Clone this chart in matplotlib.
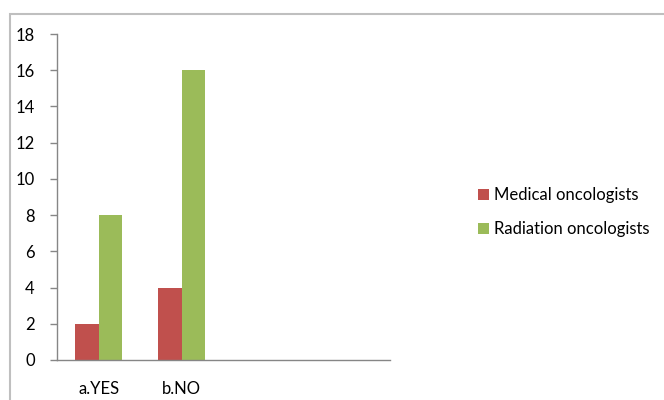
import numpy as np
import matplotlib.pyplot as plt
from matplotlib.patches import Rectangle

plt.rcParams['font.family'] = ['Lato', 'DejaVu Sans']

categories = ['a.YES', 'b.NO', '', '']
medical = [2, 4, None, None]
radiation = [8, 16, None, None]
series_names = ['Medical oncologists', 'Radiation oncologists']
yticks = [0, 2, 4, 6, 8, 10, 12, 14, 16, 18]

red = '#C0504D'
green = '#9BBB59'
axis_grey = '#868686'

fig = plt.figure(figsize=(6.64, 4.0), dpi=100)
ax = fig.add_axes([0.0858, 0.1, 0.5015, 0.815])

x = np.arange(len(categories))
w = 0.282
med_vals = [np.nan if v is None else v for v in medical]
rad_vals = [np.nan if v is None else v for v in radiation]
b1 = ax.bar(x - w / 2, med_vals, w, color=red, label=series_names[0])
b2 = ax.bar(x + w / 2, rad_vals, w, color=green, label=series_names[1])

ax.set_xlim(-0.5, len(categories) - 0.5)
ax.set_ylim(0, 18)
ax.set_yticks(yticks)
ax.set_xticks(x)
ax.set_xticklabels(categories)
ax.tick_params(axis='x', length=0, pad=15, labelsize=12)
ax.tick_params(axis='y', length=5, color=axis_grey, width=1, pad=11, labelsize=12)

for s in ['top', 'right']:
    ax.spines[s].set_visible(False)
for s in ['left', 'bottom']:
    ax.spines[s].set_color(axis_grey)
    ax.spines[s].set_linewidth(1)

leg = fig.legend(handles=[b1, b2], labels=series_names, loc='upper left',
                 bbox_to_anchor=(0.697, 0.57), frameon=False, fontsize=12,
                 handlelength=0.65, handleheight=0.65, handletextpad=0.35,
                 labelspacing=1.1)

# outer chart frame
fig.patches.append(Rectangle((10 / 664, -0.1), 1.2, 1 - 14 / 400 + 0.1,
                             transform=fig.transFigure, fill=False,
                             edgecolor='#BFBFBF', linewidth=1.5))

fig.savefig('out.png', dpi=100)
